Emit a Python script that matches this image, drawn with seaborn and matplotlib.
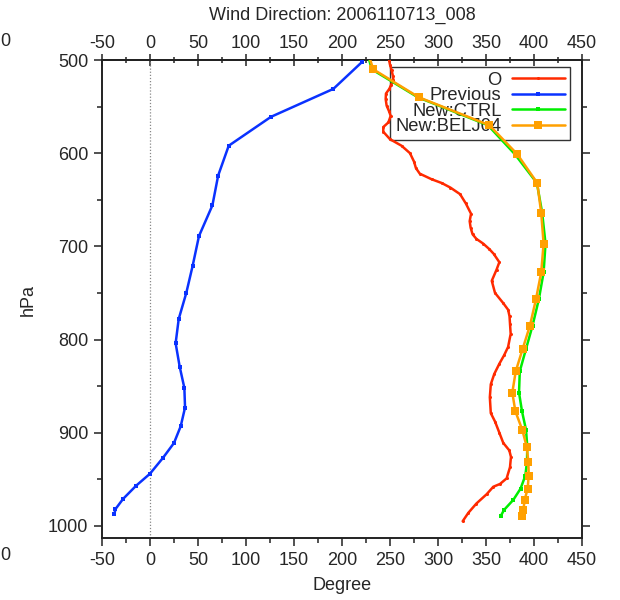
import matplotlib
matplotlib.use("Agg")
import matplotlib.pyplot as plt
import seaborn as sns
import numpy as np
import pandas as pd
from matplotlib.ticker import MultipleLocator

# ---------------- data ----------------
obs_p = [500, 505, 511, 517, 522, 527, 531, 536, 542, 549, 555, 560, 567, 572, 577,
         585, 592, 600, 609, 616, 622, 628, 632, 637, 644, 654, 665, 673, 680, 687,
         692, 697, 703, 708, 717, 725, 737, 750, 761, 768, 775, 783, 794, 808, 817,
         826, 837, 848, 862, 879, 888, 900, 911, 919, 926, 937, 949, 955, 958, 966,
         976, 986, 995]
obs_deg = [249, 250, 251.7, 253, 253.5, 251, 249.3, 245.8, 245.5, 246.5, 249, 250.7, 248.3, 243, 243,
           250, 262, 270.8, 275, 277, 281, 293.4, 303.8, 313, 323, 329, 334.4, 333, 334, 336,
           340, 347, 353.5, 358, 363.9, 361, 356, 359.4, 368, 373, 374.5, 375, 375.7, 373, 368.8,
           363.9, 358.6, 355, 354, 355, 359.4, 363.9, 368, 374.3, 376, 375, 371.5, 364.6, 357.6, 350.7,
           340, 331.6, 325.7]

prev_p = [502, 531, 561, 592, 624, 656, 689, 721, 750, 778, 804, 829, 852, 873,
          893, 911, 927, 944, 957, 971, 982, 987]
prev_deg = [221, 191, 126, 82, 71, 65, 51, 44.4, 37.8, 29.9, 26.7, 30.9, 35.8, 36.5,
            32, 25, 13.5, 0, -14.6, -28, -36, -37]

new_p = [480, 510, 540, 570, 601, 632, 664, 697, 728, 757, 785, 810, 834, 857,
         877, 897, 915, 931, 946, 960, 972, 983, 989]
ctrl_deg = [223, 231, 279, 352, 380, 403, 408.5, 412, 410, 405, 398.5, 391.7, 385.2, 384.4,
            387.5, 391.7, 393, 392.7, 391, 386, 378.5, 368.7, 365.6]
belj_deg = [223, 232.6, 280, 353.5, 382.5, 403.4, 407.5, 410, 407.5, 402, 395.8, 388.2, 381, 377.4,
            380.6, 387.8, 392.4, 394.1, 394.5, 393.4, 390.3, 388.9, 387.5]

series_names = ["O", "Previous", "New:CTRL", "New:BELJ04"]
colors = ["#ff2a00", "#0a32ff", "#00ee00", "#ffa000"]

title = "Wind Direction: 2006110713_008"
x_ticks = [-50, 0, 50, 100, 150, 200, 250, 300, 350, 400, 450]
y_ticks = [500, 600, 700, 800, 900, 1000]

# ---------------- style ----------------
sns.set_theme(style="ticks")
plt.rcParams['font.family'] = ['Liberation Sans', 'DejaVu Sans']
plt.rcParams['font.size'] = 13
plt.rcParams['axes.unicode_minus'] = False

fig = plt.figure(figsize=(6.2, 6.0), dpi=100)
ax = fig.add_axes([102/620, 1-538/600, 480/620, 478/600])

ax.axvline(0, color="#888888", lw=0.9, ls=(0, (1, 1.5)), zorder=1)

specs = [
    (obs_deg, obs_p, "o", 2.2),
    (prev_deg, prev_p, "s", 3.5),
    (ctrl_deg, new_p, "s", 3.5),
    (belj_deg, new_p, "s", 5.5),
]
for (xd, yd, mk, ms), name, col in zip(specs, series_names, colors):
    df = pd.DataFrame({"deg": xd, "p": yd})
    sns.lineplot(data=df, x="deg", y="p", sort=False, estimator=None, color=col,
                 marker=mk, markersize=ms, markeredgewidth=0, lw=1.8, ax=ax,
                 label=name, zorder=3)

ax.set_xlim(-50, 450)
ax.set_ylim(1013, 500)
ax.set_xticks(x_ticks)
ax.set_yticks(y_ticks)
ax.xaxis.set_minor_locator(MultipleLocator(25))
ax.yaxis.set_minor_locator(MultipleLocator(50))
ax.tick_params(which="both", top=False, right=True, labelright=False,
               direction="out", labelsize=13, color="#222222", width=1.1, pad=4)
ax.tick_params(which="major", length=6)
ax.tick_params(which="minor", length=3.5)

secx = ax.secondary_xaxis("top")
secx.set_xticks(x_ticks)
secx.xaxis.set_minor_locator(MultipleLocator(25))
secx.tick_params(which="both", direction="inout", labelsize=13, color="#222222",
                 width=1.1, pad=2)
secx.tick_params(which="major", length=8)
secx.tick_params(which="minor", length=5)
secx.spines["top"].set_linewidth(1.4)
secx.spines["top"].set_color("#222222")

for s in ax.spines.values():
    s.set_linewidth(1.4)
    s.set_color("#222222")
ax.set_xlabel("")
ax.set_ylabel("")

fig.text(0.552, 1-15/600, title, ha="center", va="center", fontsize=13)
fig.text(0.552, 1-585/600, "Degree", ha="center", va="center", fontsize=13)
fig.text(28/620, 1-300/600, "hPa", ha="center", va="center", rotation=90, fontsize=13)
fig.text(0.0, 1-42/600, "0", ha="left", va="center", fontsize=13)
fig.text(0.0, 1-555/600, "0", ha="left", va="center", fontsize=13)

leg = ax.legend(loc="upper right", bbox_to_anchor=((570-102)/480, (538-66.5)/478),
                borderaxespad=0, markerfirst=False, frameon=True, fancybox=False,
                fontsize=13.2, labelspacing=-0.08, handlelength=2.9, handletextpad=0.55,
                borderpad=0.28, numpoints=1)
leg.get_frame().set_edgecolor("black")
leg.get_frame().set_linewidth(1.0)
leg.get_frame().set_facecolor("none")
leg.set_zorder(1)

fig.savefig("out.png", dpi=100)
